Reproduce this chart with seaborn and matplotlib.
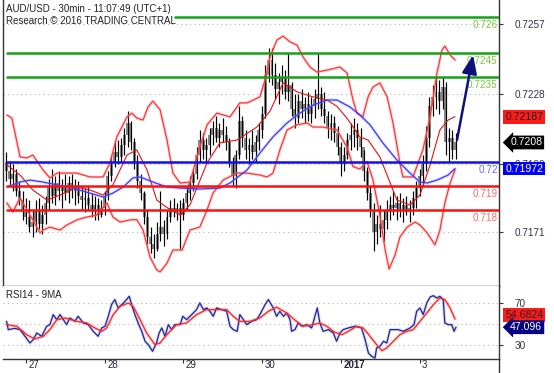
import numpy as np
import pandas as pd
import matplotlib
matplotlib.use("Agg")
import matplotlib.pyplot as plt
import matplotlib.transforms as mtransforms
import seaborn as sns
from matplotlib.lines import Line2D

# ---------------- data (prices in pips: 7200 -> 0.7200) ----------------
bar_hours = list(range(-6, 132))
bar_high = [7204, 7200, 7199, 7197, 7192, 7188,
            7185, 7184, 7180, 7184, 7185, 7182, 7186, 7193, 7197, 7194,
            7196, 7193, 7195, 7194, 7195, 7193, 7192, 7190, 7189, 7190,
            7187, 7186, 7185, 7184, 7188, 7196, 7203, 7208, 7209, 7210,
            7214, 7221, 7217, 7210, 7203, 7195, 7188, 7180, 7173, 7170,
            7175, 7188, 7176, 7180, 7184, 7185, 7183, 7184, 7185, 7190,
            7194, 7197, 7206, 7213, 7212, 7210, 7214, 7217, 7219, 7216,
            7218, 7215, 7210, 7202, 7205, 7223, 7219, 7213, 7210, 7213,
            7211, 7216, 7223, 7240, 7247, 7247, 7241, 7237, 7240, 7238,
            7245, 7233, 7228, 7228, 7230, 7227, 7229, 7227, 7230, 7245,
            7231, 7229, 7221, 7220, 7219, 7215, 7208, 7206, 7212, 7216,
            7218, 7216, 7214, 7205, 7198, 7190, 7183, 7178, 7182, 7180,
            7184, 7186, 7188, 7186, 7187, 7185, 7186, 7184, 7188, 7192,
            7197, 7203, 7215, 7227, 7232, 7235, 7234, 7235, 7233, 7214,
            7213, 7212]
bar_low = [7192, 7190, 7188, 7186, 7182, 7176,
           7174, 7171, 7169, 7171, 7172, 7170, 7174, 7180, 7183, 7182,
           7184, 7181, 7184, 7183, 7185, 7182, 7183, 7180, 7179, 7180,
           7177, 7176, 7176, 7177, 7178, 7184, 7192, 7198, 7199, 7200,
           7203, 7206, 7205, 7197, 7189, 7184, 7174, 7166, 7162, 7160,
           7163, 7167, 7165, 7168, 7175, 7177, 7176, 7164, 7176, 7180,
           7184, 7188, 7193, 7200, 7201, 7199, 7203, 7207, 7208, 7206,
           7208, 7205, 7198, 7190, 7189, 7201, 7206, 7201, 7199, 7201,
           7200, 7205, 7210, 7218, 7233, 7232, 7226, 7224, 7228, 7226,
           7225, 7219, 7214, 7216, 7218, 7216, 7217, 7216, 7218, 7222,
           7219, 7216, 7210, 7209, 7208, 7203, 7194, 7196, 7201, 7205,
           7206, 7205, 7202, 7192, 7184, 7177, 7163, 7166, 7169, 7167,
           7172, 7176, 7178, 7176, 7177, 7175, 7178, 7175, 7178, 7181,
           7186, 7190, 7196, 7206, 7219, 7222, 7220, 7222, 7203, 7200,
           7201, 7201]
bar_close = [7196, 7193, 7195, 7188, 7184, 7179,
             7177, 7173, 7175, 7180, 7174, 7178, 7183, 7190, 7186, 7191,
             7188, 7190, 7187, 7191, 7188, 7190, 7186, 7184, 7185, 7182,
             7180, 7182, 7178, 7181, 7186, 7194, 7200, 7204, 7202, 7207,
             7211, 7216, 7208, 7200, 7192, 7187, 7177, 7169, 7166, 7164,
             7170, 7173, 7170, 7177, 7181, 7179, 7181, 7178, 7183, 7187,
             7191, 7195, 7203, 7209, 7205, 7207, 7211, 7214, 7210, 7213,
             7211, 7208, 7200, 7194, 7203, 7217, 7210, 7205, 7207, 7204,
             7208, 7213, 7220, 7236, 7242, 7236, 7230, 7233, 7235, 7229,
             7232, 7222, 7218, 7225, 7222, 7224, 7220, 7223, 7226, 7228,
             7222, 7219, 7214, 7216, 7212, 7206, 7199, 7203, 7209, 7211,
             7213, 7210, 7206, 7196, 7187, 7180, 7171, 7174, 7172, 7176,
             7180, 7182, 7181, 7183, 7180, 7182, 7179, 7181, 7185, 7189,
             7194, 7199, 7210, 7223, 7227, 7229, 7225, 7231, 7208, 7210,
             7205, 7208]
first_open = 7200

upper_h = [-5.8, -4.3, -1.8, 0.3, 2.1, 5.2, 7.3, 9.5, 15.5, 19.5, 23.5, 25.6, 27.7, 30.8, 32.3,
           33.8, 35.7, 37.2, 38.7, 40.9, 43, 44.8, 47, 50, 53, 55.2, 58.2, 62.2, 65.2, 67.4,
           71.3, 72.9, 74.4, 76.5, 78.4, 80.5, 82.6, 84.5, 86.6, 88.7, 91.8, 95.7, 97.9, 99.7,
           100.9, 102.7, 104.3, 105.8, 107.9, 110.1, 111.9, 114, 114.9, 118, 121, 123.2, 125.3,
           126.8, 127.7, 129.3, 130.8]
upper_v = [7219.4, 7218.1, 7202, 7201.6, 7202.8, 7196.6, 7193.3, 7195.3, 7195.3, 7193.7, 7193.7,
           7199.5, 7210.3, 7218.6, 7220.2, 7218.1, 7217.3, 7222.7, 7225.2, 7221.5, 7209, 7195.3,
           7191.2, 7191.6, 7206.1, 7215.3, 7220.2, 7218.6, 7224.4, 7224.4, 7226.9, 7233.9, 7243.4,
           7250.5, 7252.1, 7249.7, 7248.4, 7243.4, 7239.3, 7237.2, 7238, 7239.3, 7236.8, 7225.6,
           7220.2, 7218.6, 7226.9, 7231, 7232.7, 7226.9, 7216.1, 7199.5, 7193.7, 7193.7, 7204.9,
           7218.6, 7236.8, 7246.3, 7248, 7244.3, 7242.2]

lower_h = [-5.8, -4, -1.8, 0.3, 2.1, 4.3, 5.2, 7.3, 10.4, 12.5, 15.5, 18.6, 21.6, 24.7, 26.5,
           28.7, 31.7, 33.8, 35.7, 37.8, 39.9, 40.9, 43, 44.8, 47.6, 50, 53, 55.2, 57, 60.1,
           64.3, 67.4, 71.3, 73.5, 75.3, 77.4, 79.6, 82.6, 85.7, 87.5, 90.5, 94.8, 97.9, 99.7,
           101.8, 104, 105.8, 107.9, 109.5, 110.7, 112.5, 114, 116.2, 118.6, 120.1, 122.3, 124.7,
           126.2, 127.7, 129.3, 130.8]
lower_v = [7182.9, 7179.2, 7185, 7180, 7175.9, 7170.5, 7171.7, 7172.9, 7171.7, 7173.8, 7175.9,
           7177.1, 7177.9, 7182.9, 7177.1, 7175, 7175.9, 7176, 7171.7, 7160.5, 7155.1, 7154.3,
           7158, 7163.4, 7163.4, 7171.7, 7172.9, 7180, 7187, 7192.4, 7195.3, 7195.3, 7194.5,
           7193.7, 7195.3, 7204.9, 7213.2, 7215.3, 7216.1, 7214.4, 7214.4, 7213.2, 7206, 7198,
           7197, 7200, 7192.4, 7177.9, 7163.4, 7155.5, 7161.3, 7168.8, 7172.9, 7175, 7173.8,
           7170.5, 7165.5, 7171.7, 7182.9, 7191.2, 7196.6]

mid_h = [-5.8, -1.8, 2.1, 6.4, 10.4, 15.5, 19.5, 23.5, 26.5, 30.8, 33.8, 36.9, 39.9, 43, 47,
         50, 55.2, 59.1, 64.3, 70.4, 74.4, 78.4, 82.6, 87.5, 91.8, 94.8, 97.9, 101.8, 104.3,
         107.9, 113.1, 117.1, 120.1, 123.2, 126.2, 128.7, 130.8]
mid_v = [7198.7, 7194.5, 7188.3, 7184.1, 7186.2, 7189.5, 7188.3, 7186.2, 7190.4, 7202.8, 7204.9,
         7196.6, 7184.1, 7181, 7177.9, 7182.1, 7199.5, 7207.8, 7209, 7214.4, 7221, 7232.7,
         7229, 7226.9, 7225.6, 7223, 7218, 7210.3, 7209, 7202, 7184.1, 7182.1, 7186.2, 7198.7,
         7213.2, 7217.3, 7218.7]

ma_h = [-5.8, -1.8, 1.2, 5.2, 9.5, 14.3, 19.5, 23.5, 26.5, 29.6, 32.6, 34.8, 38.7, 43, 47,
        53, 59.1, 62.2, 67.4, 71.3, 75.3, 79.6, 83.5, 87.5, 91.8, 94.8, 98.8, 101.8, 104.9,
        108.8, 113.1, 117.1, 120.1, 122.3, 125.3, 128.7, 130.8]
ma_v = [7189.5, 7191.6, 7192.4, 7191.6, 7190.4, 7189.1, 7187, 7185.4, 7187, 7189.5, 7193.3,
        7193.7, 7191.6, 7189.5, 7189.1, 7188.7, 7189.1, 7191.2, 7196.6, 7203.6, 7210.3, 7216.1,
        7220.2, 7223.5, 7225.6, 7225.6, 7222.7, 7219.4, 7215.3, 7207.8, 7200.7, 7195.3, 7191.6,
        7191.2, 7192.4, 7194.5, 7197.2]

rsi_h = [-5.9, -5.4, -3.5, -1.8, -0.3, 1.2, 2.2, 3.3, 4.8, 6.3,
         7.3, 8.3, 9.4, 10.4, 11.4, 12.4, 13.4, 14.9, 15.9, 17.5,
         19, 20.5, 22, 23.1, 24.1, 25.1, 26.1, 27.1, 28.1, 29.2,
         30.2, 31.5, 32.2, 33.2, 34.2, 35.3, 36.3, 37.3, 38.6, 39.8,
         40.6, 41.4, 42.4, 43.4, 44.4, 45.4, 47, 47.8, 49, 50,
         51, 52, 53, 54.1, 55.1, 56.1, 57.1, 58.1, 59.7, 61.2,
         62.2, 63.2, 64.4, 65.2, 66.3, 67.3, 68.8, 70.3, 71.3, 72.9,
         73.9, 75.4, 76.4, 77.4, 78.5, 79.5, 80.5, 81, 82, 83,
         84.1, 85.6, 87.1, 88.1, 88.8, 89.6, 90.6, 92.2, 93.7, 94.7,
         95.7, 96.7, 98.3, 100.3, 102.3, 103.4, 104.4, 105.4, 106.4, 106.9,
         107.9, 109, 110, 111, 112, 113.5, 115, 116.1, 117.1, 118.3,
         119.1, 120.1, 121.1, 122.2, 123.2, 124.2, 125.2, 126.2, 127.2, 127.7,
         128.7, 129.8, 130.5, 131.1]
rsi_v = [52.6, 44.8, 46, 44.8, 38.5, 32.2, 35.3, 41.6, 38.5, 48,
         49.5, 59, 54.2, 59, 54.2, 49.5, 55.8, 52.6, 57.4, 51.1,
         49.5, 43.2, 38.5, 46.4, 48, 57.4, 68.4, 73.2, 65.3, 68.4,
         71.6, 76.3, 68.4, 59, 51.1, 43.2, 33.8, 30.6, 24.3, 32.2,
         41.6, 46.4, 38.5, 49.5, 44.8, 49.5, 49.5, 57.4, 54.2, 57.4,
         60.5, 63.7, 70, 63.7, 65.3, 62.1, 57.4, 65.3, 63.7, 62.1,
         48, 44.8, 43.2, 59, 54.2, 49.5, 52.6, 54.2, 59, 68.4,
         73.2, 65.3, 57.4, 62.1, 57.4, 60.5, 54.2, 43.2, 44.8, 51.1,
         48, 49.5, 46.4, 57.4, 65.3, 51.1, 43.2, 44.8, 41.6, 33.8,
         41.6, 44.8, 46.4, 48, 46.4, 35.3, 22.7, 19.6, 18, 27.5,
         29.1, 33.8, 32.2, 44.8, 44.8, 44.8, 43.2, 44.8, 46.4, 49.5,
         62.1, 65.3, 59, 70, 75.6, 76.9, 74.7, 76.3, 73.2, 51.1,
         49.5, 49.5, 43.2, 47.1]

rsima_h = [-5.9, -2.8, 0.2, 2.7, 5.3, 7.3, 9.4, 11.9, 15.5, 18.5,
           21, 23.1, 24.6, 26.6, 28.7, 31.2, 32.7, 34.8, 36.8, 39.3,
           40.9, 42.9, 45.9, 49, 52, 55.1, 59.1, 61.2, 63.2, 65.2,
           68.3, 71.3, 73.9, 76.4, 79.5, 82.5, 84.5, 87.6, 89.6, 91.7,
           94.2, 96.3, 98.3, 100.8, 102.8, 104.9, 106.9, 108.5, 110, 112,
           114, 116.1, 118.1, 120.1, 122.2, 124.2, 126.2, 127.7, 129.3, 130.8]
rsima_v = [49.5, 48, 40, 36, 38.5, 44.8, 54.2, 55.8, 52.6, 51.1,
           46.4, 43.2, 46.4, 59, 66.8, 70, 66.8, 54.2, 41.6, 30.6,
           32.2, 40, 49.5, 51.1, 59, 63.7, 63.7, 63.7, 57.4, 52.6,
           52.6, 55.8, 62.1, 66, 60.5, 52.6, 48, 49.5, 51.1, 48,
           42.2, 40, 43.2, 48, 46.4, 38.5, 30.6, 24.9, 27.5, 33.8,
           40, 43.2, 44.8, 52.6, 60.5, 68.4, 74.7, 73.2, 65.3, 54.7]

level_values = [0.726, 0.7245, 0.7235, 0.72, 0.719, 0.718]
level_labels = ["0.726", "0.7245", "0.7235", "0.72", "0.719", "0.718"]
price_ticks = [0.7257, 0.7228, 0.7199, 0.7171]
rsi_ticks = [70, 30]
day_ticks = [0, 24, 48, 72, 96, 120]
day_labels = ["27", "28", "29", "30", "2017", "3"]
arrow_from = (131.4, 0.7209)
arrow_to = (136.3, 0.72443)
last_price = 0.7208
last_mid = 0.72187
last_ma = 0.71972
last_rsi = 47.096
last_rsima = 54.6824

# ---------------- figure ----------------
W, H = 554, 373
sns.set_theme(style="white")
plt.rcParams["font.family"] = ["Liberation Sans", "DejaVu Sans"]
fig = plt.figure(figsize=(W / 100, H / 100), dpi=100)
fig.patch.set_facecolor("white")


def fx(px):
    return px / W


def fy(py):
    return 1 - py / H


L, R = 3.0, 499.3
ax = fig.add_axes([fx(L), fy(285.5), (R - L) / W, 285.5 / H])
axr = fig.add_axes([fx(L), fy(359), (R - L) / W, (359 - 285.5) / H])

p = lambda arr: np.asarray(arr, dtype=float) / 10000.0

df = pd.DataFrame({"h": bar_hours, "high": p(bar_high), "low": p(bar_low), "close": p(bar_close)})
df["open"] = np.r_[first_open / 10000.0, df["close"].values[:-1]]

ax.set_xlim(-7.0, 144.3)
ax.set_ylim(0.714869, 0.726708)
axr.set_xlim(-7.0, 144.3)
axr.set_ylim(17.05, 86.5)

# grid
for t in price_ticks:
    ax.axhline(t, color="#b5b5b5", lw=0.8, ls=(0, (1, 3)), zorder=1)
for t in [70, 50, 30]:
    axr.axhline(t, color="#b5b5b5", lw=0.8, ls=(0, (1, 3)), zorder=1)

# bars
body_lo = np.minimum(df["open"], df["close"])
body_h = (df["close"] - df["open"]).abs().clip(lower=0.00008)
ax.bar(df["h"], body_h, bottom=body_lo, width=0.9, color="#8a8a8a", edgecolor="none", zorder=2)
ax.vlines(df["h"], df["low"], df["high"], color="black", lw=0.85, zorder=3)


def line(a, xs, ys, color, lw, halo=None, z=4):
    d = pd.DataFrame({"x": xs, "y": ys})
    if halo:
        sns.lineplot(data=d, x="x", y="y", ax=a, color=halo, lw=lw + 1.4, alpha=0.35,
                     estimator=None, sort=False, legend=False, zorder=z)
    sns.lineplot(data=d, x="x", y="y", ax=a, color=color, lw=lw,
                 estimator=None, sort=False, legend=False, zorder=z + 0.1)


# Bollinger bands & moving average
line(ax, upper_h, p(upper_v), "#ff3434", 0.9, halo="#ff9a9a")
line(ax, lower_h, p(lower_v), "#ff3434", 0.9, halo="#ff9a9a")
line(ax, mid_h, p(mid_v), "#e81010", 0.8)
line(ax, ma_h, p(ma_v), "#3a3aff", 0.9, halo="#a0a0ff")

# levels
lvl_colors = ["#18a018", "#18a018", "#18a018", "#1010ee", "#ff1010", "#ff1010"]
lbl_colors = ["#7cc73f", "#7cc73f", "#7cc73f", "#6b6bff", "#ff6a6a", "#ff6a6a"]
for v, lab, c, lc in zip(level_values, level_labels, lvl_colors, lbl_colors):
    xmin = (175 - L) / (R - L) if v == 0.726 else (7 - L) / (R - L)
    ax.axhline(v, xmin=xmin, xmax=1, color=c, lw=1.8, zorder=6)
    ax.annotate(lab, xy=(0.997, v), xycoords=("axes fraction", "data"), xytext=(0, -2.2),
                textcoords="offset points", ha="right", va="top", fontsize=7.2, color=lc, zorder=7)

# arrow
ax.annotate("", xy=arrow_to, xytext=arrow_from,
            arrowprops=dict(arrowstyle="-|>,head_length=0.75,head_width=0.3", color="#10107a",
                            lw=1.8, mutation_scale=15, shrinkA=0, shrinkB=0), zorder=8)

# RSI lines
line(axr, rsi_h, rsi_v, "#22229a", 0.9, halo="#9a9ad0")
line(axr, rsima_h, rsima_v, "#ff2a2a", 1.0, halo="#ffa0a0")

# axes styling
for a in (ax, axr):
    a.set_xlabel("")
    a.set_ylabel("")
    a.set_facecolor("white")
    a.yaxis.tick_right()
    a.tick_params(axis="y", which="both", direction="out", length=3, width=0.8, color="#333333",
                  labelsize=7.2, labelcolor="#333344", pad=8, left=False, right=True)
    for s in a.spines.values():
        s.set_color("#333333")
        s.set_linewidth(1.0)

ax.set_yticks(price_ticks)
ax.set_yticklabels([f"{t:.4f}" for t in price_ticks])
ax.set_xticks([])
ax.spines["top"].set_visible(False)
axr.spines["top"].set_visible(False)
axr.spines["left"].set_visible(False)

axr.set_yticks(rsi_ticks)
axr.set_yticklabels([str(t) for t in rsi_ticks])
axr.set_xticks(day_ticks)
axr.set_xticklabels(day_labels)
axr.tick_params(axis="x", direction="out", length=3, width=0.8, color="#333333",
                labelsize=7.0, labelcolor="#222233", pad=-2.5, bottom=True)
off = mtransforms.ScaledTranslation(2.5 / 100, 0, fig.dpi_scale_trans)
for lab in axr.get_xticklabels():
    lab.set_horizontalalignment("left")
    lab.set_transform(lab.get_transform() + off)
    if lab.get_text() == "2017":
        lab.set_fontweight("bold")


# right-hand value boxes
def vbox(a, y, txt, fc, tc, style="square,pad=0.18", x=1.012):
    a.annotate(txt, xy=(x, y), xycoords=("axes fraction", "data"), ha="left", va="center",
               fontsize=7.6, color=tc, annotation_clip=False, zorder=10,
               bbox=dict(boxstyle=style, fc=fc, ec="none"))


vbox(ax, last_mid, f"{last_mid:.5f}", "#ff1a1a", "#222222")
vbox(ax, last_price, f"{last_price:.4f}", "#000000", "white", style="larrow,pad=0.18", x=1.022)
vbox(ax, last_ma, f"{last_ma:.5f}", "#0000ff", "white")
vbox(axr, 59.0, f"{last_rsima:.4f}", "#ff1a1a", "#222222")
vbox(axr, last_rsi, f"{last_rsi:.3f}", "#000080", "white", style="larrow,pad=0.18", x=1.022)

# texts
fig.text(fx(6), fy(8.5), "AUD/USD - 30min - 11:07:49 (UTC+1)", fontsize=7.0, color="#222222",
         va="center", ha="left")
fig.text(fx(6), fy(21.5), "Research \u00a9 2016 TRADING CENTRAL", fontsize=7.0, color="#222222",
         va="center", ha="left")
fig.text(fx(6), fy(294.5), "RSI14 - 9MA", fontsize=7.0, color="#222222", va="center", ha="left")

# right axis extends to bottom
fig.add_artist(Line2D([fx(R), fx(R)], [0, fy(359)], transform=fig.transFigure,
                      color="#333333", lw=1.0))

fig.savefig("out.png", dpi=100, facecolor="white")
